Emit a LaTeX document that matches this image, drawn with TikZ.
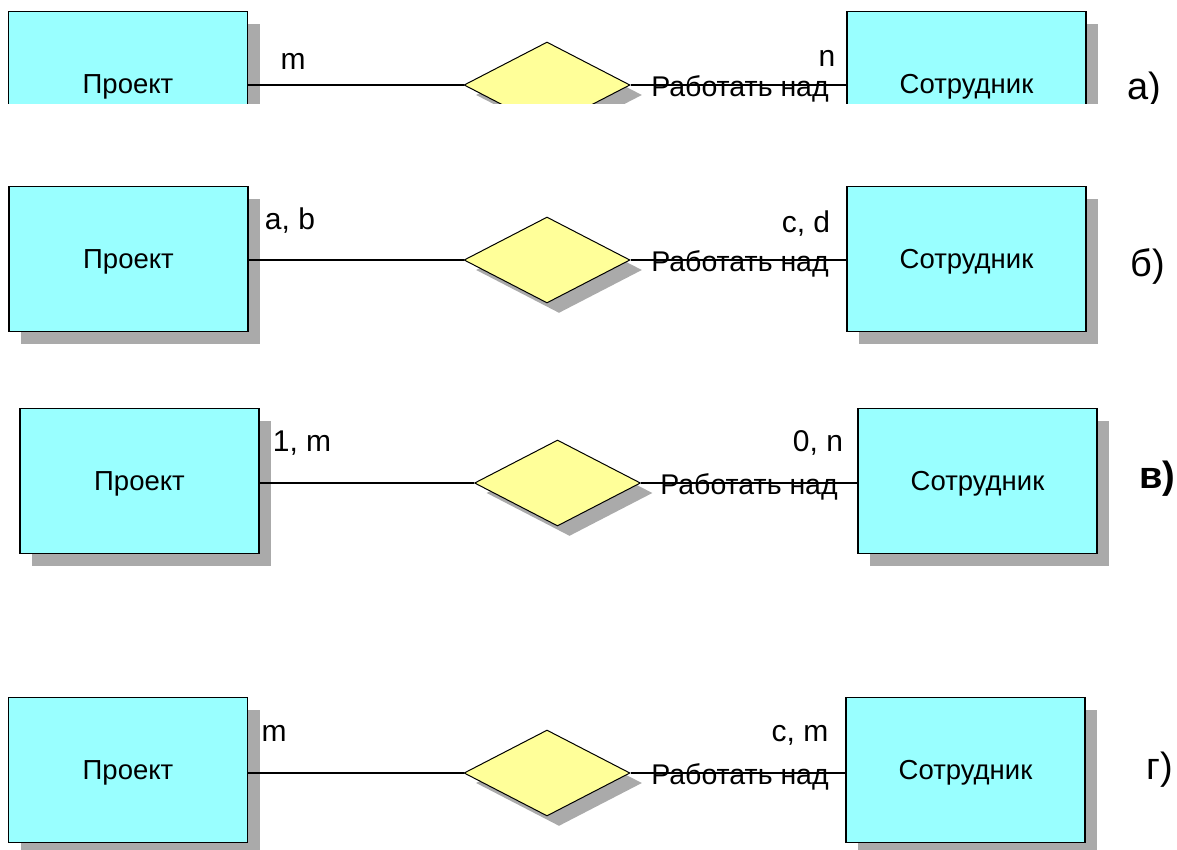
\documentclass[tikz,border=0pt]{standalone}
\usepackage{fontspec}
\setmainfont{Liberation Sans}
\usetikzlibrary{shapes.geometric,shadows}
\definecolor{entc}{HTML}{99FFFF}
\definecolor{relc}{HTML}{FFFF99}
\definecolor{shd}{HTML}{AAAAAA}
\begin{document}
\begin{tikzpicture}[x=1pt,y=-1pt,
  entity/.style={draw=black, line width=1.5pt, fill=entc, minimum width=239pt, minimum height=145pt, inner sep=0pt,
    font=\fontsize{27.5}{32}\selectfont, text height=19.7pt, text depth=0pt,
    drop shadow={shadow xshift=12pt, shadow yshift=-12pt, fill=shd, opacity=1, draw=none}},
  relbox/.style={diamond, draw=black, line width=1pt, fill=relc, minimum width=166pt, minimum height=86pt, inner sep=0pt,
    drop shadow={shadow xshift=12pt, shadow yshift=-10pt, fill=shd, opacity=1, draw=none}},
  card/.style={font=\fontsize{30}{34}\selectfont, inner sep=0pt, text height=21.5pt, text depth=0pt},
  rname/.style={font=\fontsize{28.5}{33}\selectfont, inner sep=0pt, text height=20.4pt, text depth=0pt},
  tag/.style={font=\fontsize{38}{44}\selectfont, inner sep=0pt},
  conn/.style={line width=1.5pt}]
\useasboundingbox (0,0) rectangle (1177,849);

% row a
\begin{scope}
\clip (0,0) rectangle (1177,103);
\node[entity] (p1) at (128,84) {Проект};
\node[entity] (s1) at (966.5,84) {Сотрудник};
\node[relbox] (d1) at (547,85) {};
\draw[conn] (p1.east |- d1.west) -- (d1.west);
\draw[conn] (d1.east) -- (s1.west |- d1.east);
\node[rname] (r1) at (740,86.5) {Работать над};
\node[card] (c1a) at (293,59) {m};
\node[card] (c1b) at (827,56) {n};
\node[tag] (t1) at (1144,90) {а)};
\end{scope}

% row b
\node[entity] (p2) at (128.5,259) {Проект};
\node[entity] (s2) at (966.5,259) {Сотрудник};
\node[relbox] (d2) at (547,260) {};
\draw[conn] (p2.east |- d2.west) -- (d2.west);
\draw[conn] (d2.east) -- (s2.west |- d2.east);
\node[rname] (r2) at (740,261.5) {Работать над};
\node[card] (c2a) at (290,219) {a, b};
\node[card] (c2b) at (806,222) {c, d};
\node[tag] (t2) at (1148,266) {б)};

% row v
\node[entity] (p3) at (139.5,481) {Проект};
\node[entity] (s3) at (977.5,481) {Сотрудник};
\node[relbox] (d3) at (557.5,483) {};
\draw[conn] (p3.east |- d3.west) -- (d3.west);
\draw[conn] (d3.east) -- (s3.west |- d3.east);
\node[rname] (r3) at (749,484.5) {Работать над};
\node[card] (c3a) at (302,441) {1, m};
\node[card] (c3b) at (818,441) {0, n};
\node[tag, font=\fontsize{38}{44}\selectfont\bfseries] (t3) at (1157,479) {в)};

% row g
\node[entity] (p4) at (128,770) {Проект};
\node[entity] (s4) at (965.5,770) {Сотрудник};
\node[relbox] (d4) at (547,773) {};
\draw[conn] (p4.east |- d4.west) -- (d4.west);
\draw[conn] (d4.east) -- (s4.west |- d4.east);
\node[rname] (r4) at (740,774.5) {Работать над};
\node[card] (c4a) at (274,731) {m};
\node[card] (c4b) at (800,731) {c, m};
\node[tag] (t4) at (1160,770) {г)};
\end{tikzpicture}
\end{document}
